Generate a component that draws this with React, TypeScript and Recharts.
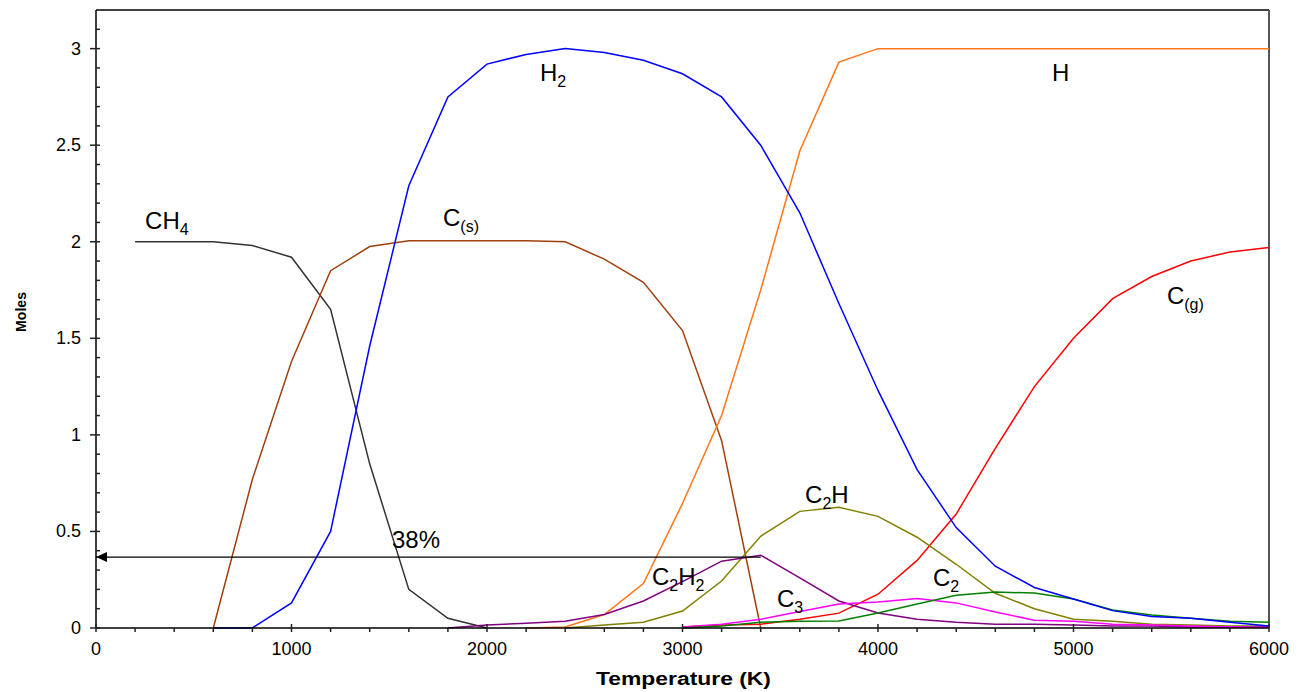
import React from 'react';
import {
  LineChart,
  Line,
  XAxis,
  YAxis,
  ReferenceLine,
  ReferenceDot,
  Label,
} from 'recharts';

// temperature grid (K)
const temps = [
  200, 400, 600, 800, 1000, 1200, 1400, 1600, 1800, 2000,
  2200, 2400, 2600, 2800, 3000, 3200, 3400, 3600, 3800, 4000,
  4200, 4400, 4600, 4800, 5000, 5200, 5400, 5600, 5800, 6000,
];

const _ = null;

// moles of each species
const ch4 = [2.0, 2.0, 2.0, 1.98, 1.92, 1.65, 0.85, 0.2, 0.05, 0.0, _, _, _, _, _, _, _, _, _, _, _, _, _, _, _, _, _, _, _, _];
const cs = [_, _, 0, 0.77, 1.38, 1.85, 1.975, 2.005, 2.005, 2.005, 2.005, 2.0, 1.91, 1.79, 1.54, 0.97, 0, _, _, _, _, _, _, _, _, _, _, _, _, _];
const h2 = [_, _, 0, 0, 0.13, 0.5, 1.46, 2.29, 2.75, 2.92, 2.97, 3.0, 2.98, 2.94, 2.87, 2.75, 2.5, 2.15, 1.68, 1.23, 0.82, 0.52, 0.32, 0.21, 0.15, 0.09, 0.06, 0.05, 0.03, 0.01];
const h = [_, _, _, _, _, _, _, _, _, _, 0, 0.005, 0.07, 0.23, 0.645, 1.1, 1.75, 2.47, 2.93, 3.0, 3.0, 3.0, 3.0, 3.0, 3.0, 3.0, 3.0, 3.0, 3.0, 3.0];
const cg = [_, _, _, _, _, _, _, _, _, _, _, _, _, _, 0.005, 0.015, 0.02, 0.045, 0.077, 0.175, 0.35, 0.59, 0.93, 1.25, 1.5, 1.705, 1.82, 1.9, 1.947, 1.97];
const c2h = [_, _, _, _, _, _, _, _, _, _, _, 0, 0.015, 0.03, 0.088, 0.243, 0.475, 0.604, 0.625, 0.578, 0.47, 0.33, 0.18, 0.1, 0.045, 0.035, 0.02, 0.015, 0.01, 0.01];
const c2h2 = [_, _, _, _, _, _, _, _, 0, 0.015, 0.025, 0.035, 0.07, 0.14, 0.24, 0.346, 0.377, 0.26, 0.14, 0.078, 0.045, 0.03, 0.02, 0.02, 0.015, 0.01, 0.01, 0.005, 0.005, 0.005];
const c3 = [_, _, _, _, _, _, _, _, _, _, _, _, _, _, 0.005, 0.02, 0.045, 0.085, 0.124, 0.135, 0.153, 0.13, 0.083, 0.04, 0.035, 0.02, 0.015, 0.01, 0.005, 0.003];
const c2 = [_, _, _, _, _, _, _, _, _, _, _, _, _, _, 0, 0.01, 0.03, 0.035, 0.036, 0.078, 0.124, 0.17, 0.186, 0.181, 0.15, 0.093, 0.067, 0.05, 0.035, 0.03];

const xTicks = Array.from({ length: 31 }, (_v, i) => i * 200);
const yTicks = Array.from({ length: 32 }, (_v, i) => Math.round(i * 10) / 100);

const xMax = 6000;
const yMax = 3.2;

// the 38% marker
const markerLevel = 0.367;
const markerEnd = 3400;

const data = temps.map((T, i) => ({
  T,
  ch4: ch4[i],
  cs: cs[i],
  h2: h2[i],
  h: h[i],
  cg: cg[i],
  c2h: c2h[i],
  c2h2: c2h2[i],
  c3: c3[i],
  c2: c2[i],
}));

const series = [
  { key: 'ch4', color: '#333333' },
  { key: 'cs', color: '#A0400F' },
  { key: 'h', color: '#FF7518' },
  { key: 'cg', color: '#FF0000' },
  { key: 'c2h', color: '#808000' },
  { key: 'c2h2', color: '#800080' },
  { key: 'c3', color: '#FF00FF' },
  { key: 'c2', color: '#008000' },
  { key: 'h2', color: '#0000FF' },
];

// species names: [text, subscript]
const labels: { t: number; v: number; parts: [string, boolean][] }[] = [
  { t: 251, v: 2.066, parts: [['CH', false], ['4', true]] },
  { t: 1775, v: 2.08, parts: [['C', false], ['(s)', true]] },
  { t: 2271, v: 2.83, parts: [['H', false], ['2', true]] },
  { t: 4890, v: 2.83, parts: [['H', false]] },
  { t: 5478, v: 1.68, parts: [['C', false], ['(g)', true]] },
  { t: 3627, v: 0.646, parts: [['C', false], ['2', true], ['H', false]] },
  { t: 2844, v: 0.222, parts: [['C', false], ['2', true], ['H', false], ['2', true]] },
  { t: 3483, v: 0.108, parts: [['C', false], ['3', true]] },
  { t: 4281, v: 0.217, parts: [['C', false], ['2', true]] },
  { t: 1514, v: 0.413, parts: [['38%', false]] },
];

const FONT = "Arial, 'Liberation Sans', sans-serif";

const XTick = (props: any) => {
  const { x, y, payload } = props;
  const v = payload.value;
  const major = v % 1000 === 0;
  return (
    <g>
      <path d={`M${x},${major ? y - 4 : y}L${x},${y + 4}`} stroke="#222" strokeWidth={1.5} fill="none" />
      {major && (
        <text x={x} y={y + 27} textAnchor="middle" fontSize={18} fontFamily={FONT} fill="#000">
          {v}
        </text>
      )}
    </g>
  );
};

const YTick = (props: any) => {
  const { x, y, payload } = props;
  const v = payload.value;
  const major = Math.abs(v * 2 - Math.round(v * 2)) < 1e-6;
  return (
    <g>
      <path d={`M${major ? x - 6 : x},${y}L${x + 4},${y}`} stroke="#222" strokeWidth={1.5} fill="none" />
      {major && (
        <text x={x - 15} y={y + 6} textAnchor="end" fontSize={18} fontFamily={FONT} fill="#000">
          {v}
        </text>
      )}
    </g>
  );
};

const SpeciesLabel = ({ cx, cy, parts }: any) => {
  let shift = 0;
  return (
    <text x={cx} y={cy} fontSize={24} fontFamily={FONT} fill="#000">
      {parts.map(([s, sub]: [string, boolean], i: number) => {
        const dy = sub ? 6 - shift : -shift;
        shift = sub ? 6 : 0;
        return (
          <tspan key={i} dy={dy} fontSize={sub ? 16 : 24}>
            {s}
          </tspan>
        );
      })}
    </text>
  );
};

const Arrow = (props: any) => {
  const { x1, y1, x2, y2 } = props;
  const left = Math.min(x1, x2);
  const right = Math.max(x1, x2);
  return (
    <g>
      <line x1={left} x2={right} y1={y1} y2={y2} stroke="#000" strokeWidth={1.2} />
      <polygon points={`${left},${y1} ${left + 11},${y1 - 5} ${left + 11},${y1 + 5}`} fill="#000" />
    </g>
  );
};

export default function App() {
  return (
    <div style={{ position: 'absolute', left: 0, top: 0, background: '#fff' }}>
      <LineChart
        width={1301}
        height={692}
        data={data}
        margin={{ top: 10, right: 32, bottom: 4, left: 0 }}
      >
        <XAxis
          dataKey="T"
          type="number"
          domain={[0, xMax]}
          ticks={xTicks}
          interval={0}
          height={60}
          tickSize={0}
          tickMargin={0}
          tickLine={false}
          tick={<XTick />}
          axisLine={{ stroke: '#000', strokeWidth: 1.5 }}
        >
          <Label
            content={() => (
              <text
                x={596}
                y={685}
                textLength={175}
                lengthAdjust="spacingAndGlyphs"
                fontSize={18}
                fontWeight="bold"
                fontFamily={FONT}
                fill="#000"
              >
                Temperature (K)
              </text>
            )}
          />
        </XAxis>
        <YAxis
          type="number"
          domain={[0, yMax]}
          ticks={yTicks}
          interval={0}
          width={96}
          tickSize={0}
          tickMargin={0}
          tickLine={false}
          tick={<YTick />}
          axisLine={{ stroke: '#000', strokeWidth: 1.5 }}
        >
          <Label
            content={() => (
              <text
                x={0}
                y={0}
                transform="translate(26, 312) rotate(-90)"
                textAnchor="middle"
                fontSize={15}
                fontWeight="bold"
                fontFamily={FONT}
                fill="#000"
                textLength={40}
                lengthAdjust="spacingAndGlyphs"
              >
                Moles
              </text>
            )}
          />
        </YAxis>
        <ReferenceLine y={yMax} stroke="#000" strokeWidth={1.5} ifOverflow="visible" />
        <ReferenceLine x={xMax} stroke="#555" strokeWidth={2} ifOverflow="visible" />
        {series.map((s) => (
          <Line
            key={s.key}
            type="linear"
            dataKey={s.key}
            stroke={s.color}
            strokeWidth={1.5}
            dot={false}
            isAnimationActive={false}
          />
        ))}
        <ReferenceLine
          segment={[
            { x: 0, y: markerLevel },
            { x: markerEnd, y: markerLevel },
          ]}
          ifOverflow="visible"
          shape={<Arrow />}
        />
        {labels.map((l, i) => (
          <ReferenceDot
            key={i}
            x={l.t}
            y={l.v}
            r={0}
            ifOverflow="visible"
            shape={(p: any) => <SpeciesLabel cx={p.cx} cy={p.cy} parts={l.parts} />}
          />
        ))}
      </LineChart>
    </div>
  );
}
